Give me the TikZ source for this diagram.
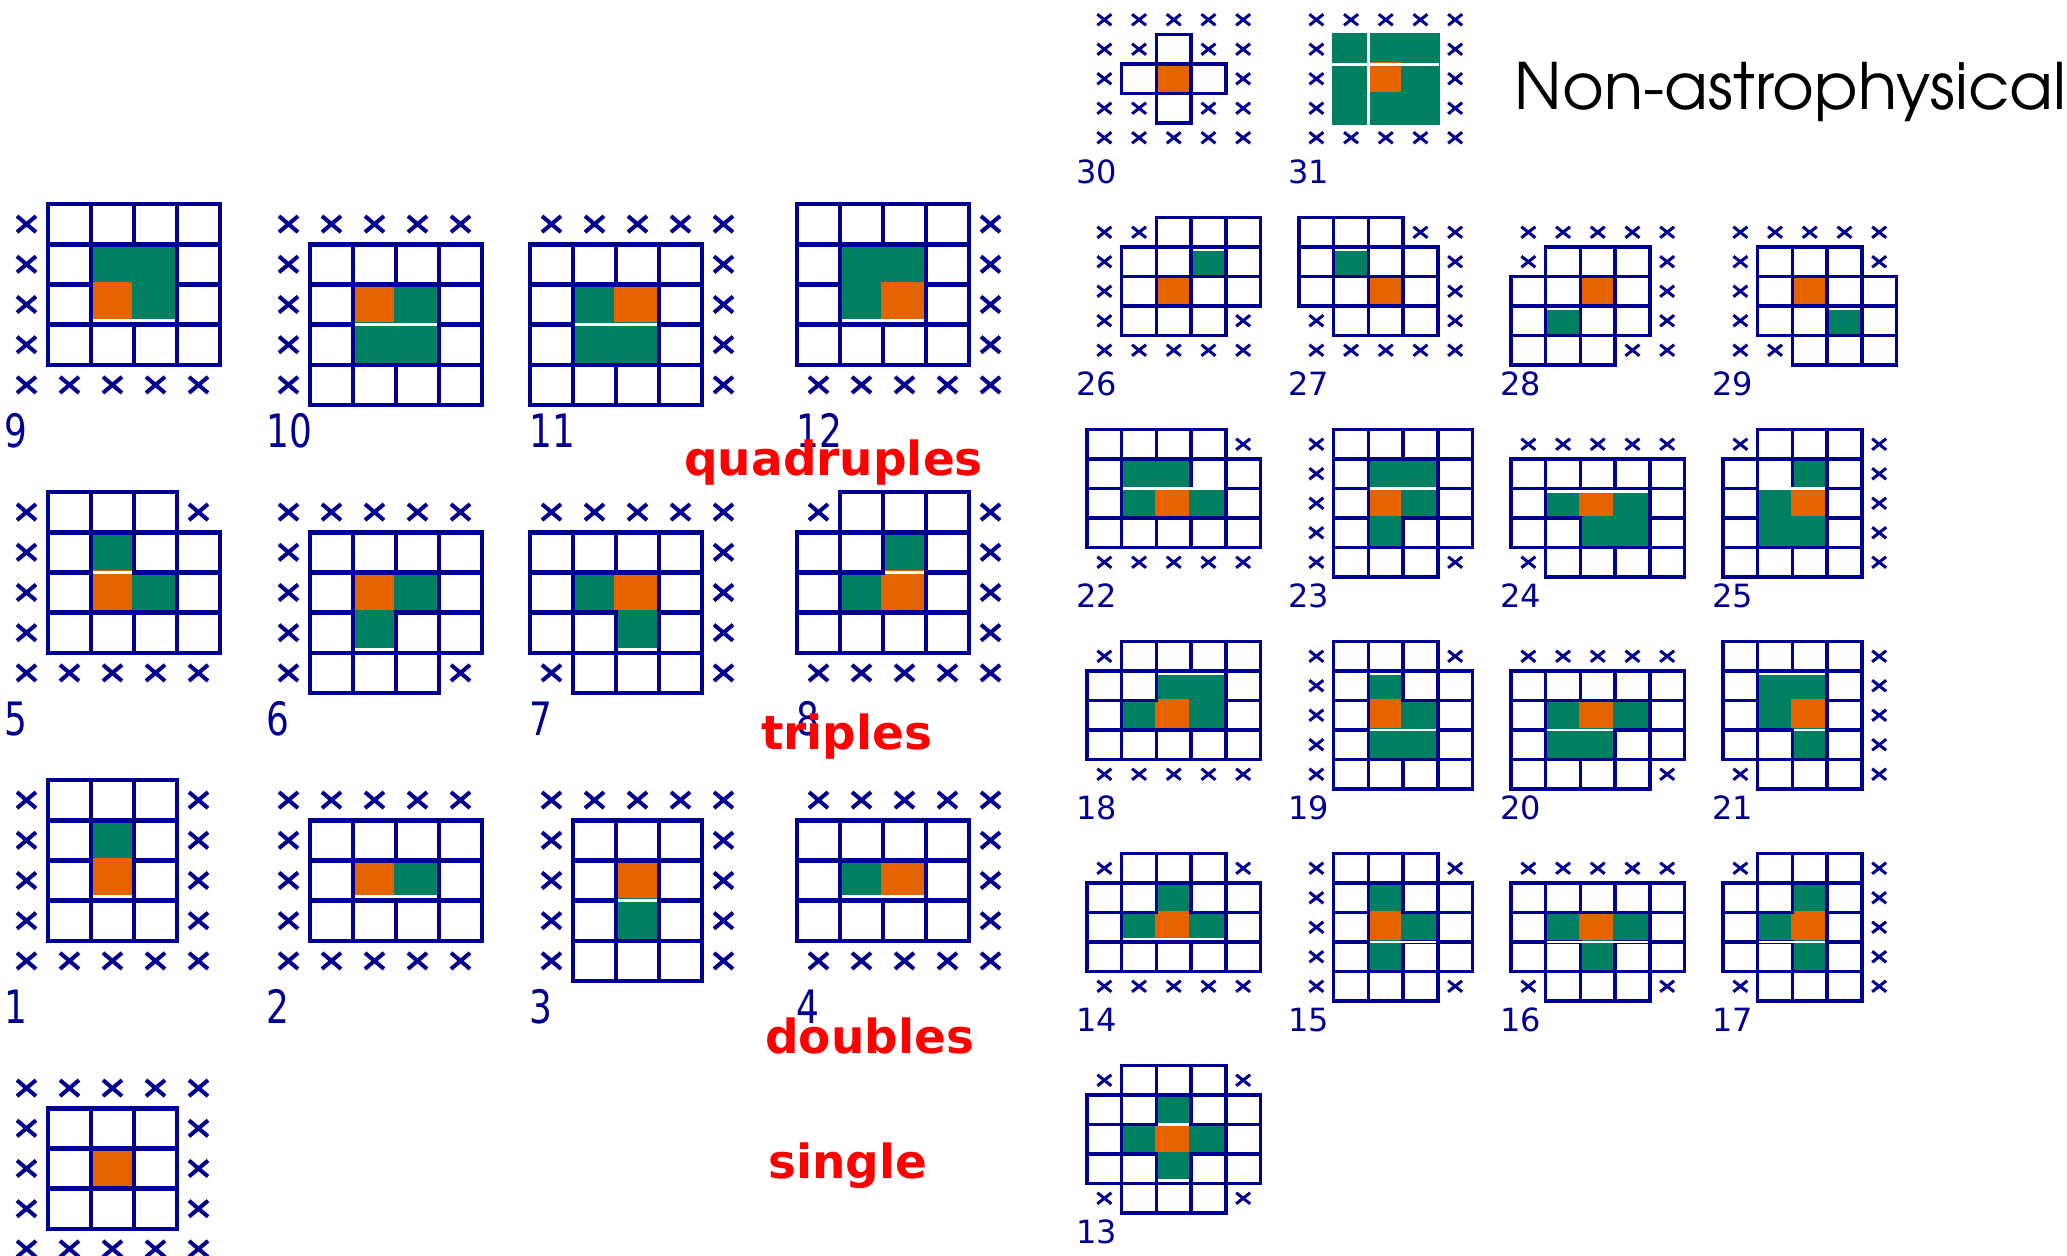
\documentclass[tikz,border=0pt]{standalone}
\usepackage{fontspec}
\newfontfamily\dvs{DejaVu Sans}
\newfontfamily\advf{TeX Gyre Adventor}
\definecolor{boxblue}{RGB}{0,0,144}
\definecolor{hitorange}{RGB}{230,100,0}
\definecolor{hitgreen}{RGB}{0,128,96}

% one cell of a 5x5 neighbourhood; \mode selects the drawing layer
\def\cell#1#2#3{%
  \ifcase\mode\relax
  \or
    \if#3o\fill[hitorange] ({\X+#2*\cw-\lw/2},{\Y+#1*\ch-\lw/2}) rectangle ++({\cw+\lw},{\ch+\lw});\fi
    \if#3g\fill[hitgreen] ({\X+#2*\cw-\lw/2},{\Y+#1*\ch-\lw/2}) rectangle ++({\cw+\lw},{\ch+\lw});\fi
  \or
    \if#3b\draw[boxblue,line width=\lw bp] ({\X+#2*\cw},{\Y+#1*\ch}) rectangle ++(\cw,\ch);\fi
  \or
    \if#3x\draw[boxblue,line width=\xl bp]
      ({\X+(#2+0.5)*\cw-\xa},{\Y+(#1+0.5)*\ch-\xb}) -- ++({2*\xa},{2*\xb})
      ({\X+(#2+0.5)*\cw-\xa},{\Y+(#1+0.5)*\ch+\xb}) -- ++({2*\xa},{-2*\xb});\fi
  \fi}
\def\prow#1#2#3#4#5#6{\cell{#1}{0}{#2}\cell{#1}{1}{#3}\cell{#1}{2}{#4}\cell{#1}{3}{#5}\cell{#1}{4}{#6}}
% \pat{x}{y}{row0}...{row4}: x = cross, b = empty cell, o = hit pixel, g = neighbour hit
\newcommand\pat[7]{\def\X{#1}\def\Y{#2}%
  \def\mode{1}\prow0#3\prow1#4\prow2#5\prow3#6\prow4#7%
  \def\mode{2}\prow0#3\prow1#4\prow2#5\prow3#6\prow4#7%
  \def\mode{3}\prow0#3\prow1#4\prow2#5\prow3#6\prow4#7}
% thin white gap along row boundary #1, columns #2..#3
\newcommand\ws[4]{\fill[white] ({\X+#2*\cw+\lw/2},{\Y+#1*\ch+(#4)}) rectangle ({\X+(#3+1)*\cw-\lw/2},{\Y+#1*\ch+(#4)+\sw});}
\def\offA{-\lw/2-\sw}
\def\offU{\lw/2}
\def\offC{-\sw/2}
\newcommand\llab[2]{\node[leftnum] (#1) at ({\X-1},{\Y+243.5}) {\scalebox{0.78}[1]{#2}};}
\newcommand\rlab[2]{\node[rightnum] (#1) at ({\X-11},{\Y+178}) {#2};}
\newcommand\biggeom{\def\cw{43}\def\ch{40.2}\def\lw{4.6}\def\sw{3}\def\xa{9.5}\def\xb{8}\def\xl{4}}
\newcommand\smallgeom{\def\cw{34.7}\def\ch{29.5}\def\lw{3.4}\def\sw{2.7}\def\xa{7}\def\xb{5.5}\def\xl{3}}

\tikzset{
  leftnum/.style={anchor=base west,inner sep=0pt,text=boxblue,font=\dvs\fontsize{46bp}{46bp}\selectfont},
  rightnum/.style={anchor=base west,inner sep=0pt,text=boxblue,font=\dvs\fontsize{32bp}{32bp}\selectfont},
  category/.style={anchor=base west,inner sep=0pt,text=red,font=\dvs\bfseries\fontsize{47bp}{47bp}\selectfont},
  heading/.style={anchor=base west,inner sep=0pt,text=black,font=\advf\fontsize{64bp}{64bp}\selectfont}
}

\begin{document}
\begin{tikzpicture}[x=1bp,y=-1bp]
\useasboundingbox (0,0) rectangle (2067,1255);
\fill[white] (0,0) rectangle (2067,1255);

% ---------------- left block: quadruples, triples, doubles, single
\biggeom
\pat{5}{204}{xbbbb}{xbggb}{xbogb}{xbbbb}{xxxxx}\ws{3}{2}{3}{\offA}\llab{n9}{9}
\pat{267}{204}{xxxxx}{xbbbb}{xbogb}{xbggb}{xbbbb}\ws{3}{2}{3}{\offC}\llab{n10}{10}
\pat{530}{204}{xxxxx}{bbbbx}{bgobx}{bggbx}{bbbbx}\ws{3}{1}{2}{\offC}\llab{n11}{11}
\pat{797}{204}{bbbbx}{bggbx}{bgobx}{bbbbx}{xxxxx}\ws{3}{1}{2}{\offA}\llab{n12}{12}

\pat{5}{492}{xbbbx}{xbgbb}{xbogb}{xbbbb}{xxxxx}\ws{2}{2}{2}{\offC}\llab{n5}{5}
\pat{267}{492}{xxxxx}{xbbbb}{xbogb}{xbgbb}{xbbbx}\ws{4}{2}{2}{\offA}\llab{n6}{6}
\pat{530}{492}{xxxxx}{bbbbx}{bgobx}{bbgbx}{xbbbx}\ws{4}{2}{2}{\offA}\llab{n7}{7}
\pat{797}{492}{xbbbx}{bbgbx}{bgobx}{bbbbx}{xxxxx}\ws{2}{2}{2}{\offC}\llab{n8}{8}

\pat{5}{780}{xbbbx}{xbgbx}{xbobx}{xbbbx}{xxxxx}\ws{3}{2}{2}{\offA}\llab{n1}{1}
\pat{267}{780}{xxxxx}{xbbbb}{xbogb}{xbbbb}{xxxxx}\ws{3}{2}{3}{\offA}\llab{n2}{2}
\pat{530}{780}{xxxxx}{xbbbx}{xbobx}{xbgbx}{xbbbx}\ws{3}{2}{2}{\offC}\llab{n3}{3}
\pat{797}{780}{xxxxx}{bbbbx}{bgobx}{bbbbx}{xxxxx}\ws{3}{1}{2}{\offA}\llab{n4}{4}

\pat{5}{1068}{xxxxx}{xbbbx}{xbobx}{xbbbx}{xxxxx}

\node[category] (quad) at (684,475) {quadruples};
\node[category] (trip) at (761,749) {triples};
\node[category] (doub) at (765,1053) {doubles};
\node[category] (sing) at (768,1178) {single};

% ---------------- right block
\smallgeom
\pat{1087}{5}{xxxxx}{xxbxx}{xbobx}{xxbxx}{xxxxx}\rlab{n30}{30}
\pat{1299}{5}{xxxxx}{xgggx}{xgogx}{xgggx}{xxxxx}\rlab{n31}{31}
\fill[white] ({\X+2*\cw-1.5},{\Y+\ch-1.5}) rectangle ++(3,{3*\ch+3});
\fill[white] ({\X+\cw-1.5},{\Y+2*\ch-1.5}) rectangle ++({3*\cw+3},3);

\pat{1087}{217.5}{xxbbb}{xbbgb}{xbobb}{xbbbx}{xxxxx}\ws{1}{3}{3}{\offU}\rlab{n26}{26}
\pat{1299}{217.5}{bbbxx}{bgbbx}{bbobx}{xbbbx}{xxxxx}\ws{1}{1}{1}{\offU}\rlab{n27}{27}
\pat{1511}{217.5}{xxxxx}{xbbbx}{bbobx}{bgbbx}{bbbxx}\ws{3}{1}{1}{\offU}\rlab{n28}{28}
\pat{1723}{217.5}{xxxxx}{xbbbx}{xbobb}{xbbgb}{xxbbb}\ws{3}{3}{3}{\offU}\rlab{n29}{29}

\pat{1087}{429.5}{bbbbx}{bggbb}{bgogb}{bbbbb}{xxxxx}\ws{2}{1}{3}{\offC}\rlab{n22}{22}
\pat{1299}{429.5}{xbbbb}{xbggb}{xbogb}{xbgbb}{xbbbx}\ws{2}{2}{3}{\offC}\rlab{n23}{23}
\pat{1511}{429.5}{xxxxx}{bbbbb}{bgogb}{bbggb}{xbbbb}\ws{2}{1}{3}{\offU}\rlab{n24}{24}
\pat{1723}{429.5}{xbbbx}{bbgbx}{bgobx}{bggbx}{bbbbx}\ws{2}{1}{2}{\offC}\rlab{n25}{25}

\pat{1087}{641.5}{xbbbb}{bbggb}{bgogb}{bbbbb}{xxxxx}\ws{1}{2}{3}{\offU}\rlab{n18}{18}
\pat{1299}{641.5}{xbbbx}{xbgbb}{xbogb}{xbggb}{xbbbb}\ws{1}{2}{2}{\offU}\ws{3}{2}{3}{\offC}\rlab{n19}{19}
\pat{1511}{641.5}{xxxxx}{bbbbb}{bgogb}{bggbb}{bbbbx}\ws{3}{1}{2}{\offC}\rlab{n20}{20}
\pat{1723}{641.5}{bbbbx}{bggbx}{bgobx}{bbgbx}{xbbbx}\ws{1}{1}{2}{\offU}\ws{3}{2}{2}{\offC}\rlab{n21}{21}

\pat{1087}{853.5}{xbbbx}{bbgbb}{bgogb}{bbbbb}{xxxxx}\ws{3}{1}{3}{\offA}\rlab{n14}{14}
\pat{1299}{853.5}{xbbbx}{xbgbb}{xbogb}{xbgbb}{xbbbx}\ws{3}{2}{3}{\offC}\rlab{n15}{15}
\pat{1511}{853.5}{xxxxx}{bbbbb}{bgogb}{bbgbb}{xbbbx}\ws{3}{1}{3}{\offC}\rlab{n16}{16}
\pat{1723}{853.5}{xbbbx}{bbgbx}{bgobx}{bbgbx}{xbbbx}\ws{3}{1}{2}{\offC}\rlab{n17}{17}

\pat{1087}{1065.5}{xbbbx}{bbgbb}{bgogb}{bbgbb}{xbbbx}\ws{2}{2}{2}{\offC}\ws{4}{2}{2}{\offA}\rlab{n13}{13}

\node[heading] (title) at (1514,109.3) {Non-astrophysical};
\end{tikzpicture}
\end{document}
